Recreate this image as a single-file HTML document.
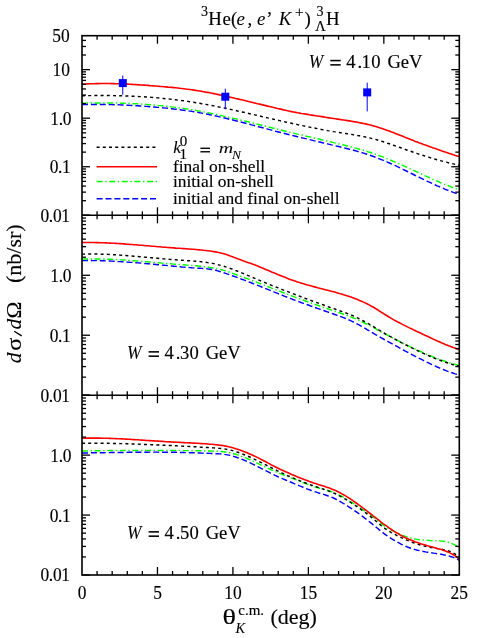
<!DOCTYPE html><html><head><meta charset="utf-8"><title>plot</title>
<style>html,body{margin:0;padding:0;background:#fff}svg{display:block;will-change:transform}text{font-family:"Liberation Serif",serif;fill:#000;stroke:#000;stroke-width:0.15px}.i{font-style:italic;stroke-width:0.06px}</style></head><body>
<svg width="491" height="638" viewBox="0 0 491 638">
<rect width="491" height="638" fill="#fff"/>
<path d="M82.0 103.2 L84.0 103.1 L86.0 103.1 L88.0 103.0 L90.0 103.0 L92.0 103.0 L94.0 102.9 L96.0 102.9 L98.0 102.9 L100.0 102.9 L102.0 102.9 L104.0 102.9 L106.0 102.9 L108.0 102.9 L109.9 102.9 L111.9 103.0 L113.9 103.0 L115.9 103.0 L117.9 103.1 L119.9 103.1 L121.9 103.2 L123.9 103.2 L125.9 103.3 L127.9 103.4 L129.9 103.5 L131.9 103.6 L133.9 103.7 L135.9 103.8 L137.9 103.9 L139.9 104.0 L141.9 104.1 L143.9 104.2 L145.9 104.4 L147.9 104.5 L149.9 104.7 L151.9 104.8 L153.9 105.0 L155.9 105.2 L157.9 105.4 L159.9 105.6 L161.9 105.8 L163.8 106.0 L165.8 106.2 L167.8 106.4 L169.8 106.6 L171.8 106.9 L173.8 107.1 L175.8 107.4 L177.8 107.6 L179.8 107.9 L181.8 108.2 L183.8 108.5 L185.8 108.8 L187.8 109.1 L189.8 109.4 L191.8 109.7 L193.8 110.1 L195.8 110.4 L197.8 110.8 L199.8 111.1 L201.8 111.5 L203.8 111.9 L205.8 112.3 L207.8 112.7 L209.8 113.1 L211.8 113.5 L213.8 113.9 L215.8 114.3 L217.7 114.7 L219.7 115.2 L221.7 115.6 L223.7 116.1 L225.7 116.5 L227.7 117.0 L229.7 117.4 L231.7 117.9 L233.7 118.4 L235.7 118.8 L237.7 119.3 L239.7 119.8 L241.7 120.3 L243.7 120.8 L245.7 121.3 L247.7 121.8 L249.7 122.3 L251.7 122.7 L253.7 123.2 L255.7 123.7 L257.7 124.2 L259.7 124.7 L261.7 125.2 L263.7 125.7 L265.7 126.2 L267.7 126.7 L269.7 127.2 L271.6 127.7 L273.6 128.2 L275.6 128.7 L277.6 129.2 L279.6 129.7 L281.6 130.2 L283.6 130.7 L285.6 131.2 L287.6 131.7 L289.6 132.1 L291.6 132.6 L293.6 133.1 L295.6 133.6 L297.6 134.1 L299.6 134.5 L301.6 135.0 L303.6 135.5 L305.6 136.0 L307.6 136.5 L309.6 136.9 L311.6 137.4 L313.6 137.9 L315.6 138.4 L317.6 138.8 L319.6 139.3 L321.6 139.8 L323.6 140.2 L325.5 140.7 L327.5 141.2 L329.5 141.7 L331.5 142.1 L333.5 142.6 L335.5 143.1 L337.5 143.6 L339.5 144.1 L341.5 144.5 L343.5 145.0 L345.5 145.5 L347.5 146.0 L349.5 146.5 L351.5 147.0 L353.5 147.5 L355.5 148.1 L357.5 148.6 L359.5 149.2 L361.5 149.8 L363.5 150.3 L365.5 150.9 L367.5 151.6 L369.5 152.2 L371.5 152.8 L373.5 153.5 L375.5 154.2 L377.5 154.9 L379.4 155.7 L381.4 156.4 L383.4 157.2 L385.4 158.0 L387.4 158.8 L389.4 159.6 L391.4 160.5 L393.4 161.3 L395.4 162.2 L397.4 163.1 L399.4 163.9 L401.4 164.8 L403.4 165.7 L405.4 166.6 L407.4 167.6 L409.4 168.5 L411.4 169.4 L413.4 170.3 L415.4 171.2 L417.4 172.2 L419.4 173.1 L421.4 174.0 L423.4 174.9 L425.4 175.9 L427.4 176.8 L429.4 177.7 L431.4 178.6 L433.3 179.5 L435.3 180.4 L437.3 181.2 L439.3 182.1 L441.3 183.0 L443.3 183.8 L445.3 184.6 L447.3 185.4 L449.3 186.2 L451.3 187.0 L453.3 187.7 L455.3 188.5 L457.3 189.2 L459.3 189.9" fill="none" stroke="#0f0" stroke-width="1.45" stroke-dasharray="6 2.6 1.4 2.6"/>
<path d="M82.0 104.5 L84.0 104.4 L86.0 104.4 L88.0 104.4 L90.0 104.4 L92.0 104.4 L94.0 104.4 L96.0 104.4 L98.0 104.4 L100.0 104.4 L102.0 104.4 L104.0 104.4 L106.0 104.5 L108.0 104.5 L109.9 104.6 L111.9 104.6 L113.9 104.7 L115.9 104.7 L117.9 104.8 L119.9 104.9 L121.9 105.0 L123.9 105.1 L125.9 105.2 L127.9 105.3 L129.9 105.4 L131.9 105.5 L133.9 105.6 L135.9 105.7 L137.9 105.8 L139.9 106.0 L141.9 106.1 L143.9 106.2 L145.9 106.4 L147.9 106.5 L149.9 106.7 L151.9 106.8 L153.9 107.0 L155.9 107.2 L157.9 107.4 L159.9 107.5 L161.9 107.7 L163.8 107.9 L165.8 108.1 L167.8 108.3 L169.8 108.5 L171.8 108.7 L173.8 109.0 L175.8 109.2 L177.8 109.4 L179.8 109.7 L181.8 110.0 L183.8 110.2 L185.8 110.5 L187.8 110.8 L189.8 111.1 L191.8 111.4 L193.8 111.7 L195.8 112.1 L197.8 112.4 L199.8 112.8 L201.8 113.1 L203.8 113.5 L205.8 113.9 L207.8 114.3 L209.8 114.7 L211.8 115.1 L213.8 115.6 L215.8 116.0 L217.7 116.4 L219.7 116.9 L221.7 117.4 L223.7 117.8 L225.7 118.3 L227.7 118.8 L229.7 119.3 L231.7 119.7 L233.7 120.2 L235.7 120.7 L237.7 121.2 L239.7 121.8 L241.7 122.3 L243.7 122.8 L245.7 123.3 L247.7 123.8 L249.7 124.3 L251.7 124.9 L253.7 125.4 L255.7 125.9 L257.7 126.4 L259.7 127.0 L261.7 127.5 L263.7 128.0 L265.7 128.6 L267.7 129.1 L269.7 129.6 L271.6 130.1 L273.6 130.6 L275.6 131.2 L277.6 131.7 L279.6 132.2 L281.6 132.7 L283.6 133.2 L285.6 133.7 L287.6 134.2 L289.6 134.7 L291.6 135.2 L293.6 135.7 L295.6 136.2 L297.6 136.7 L299.6 137.2 L301.6 137.7 L303.6 138.1 L305.6 138.6 L307.6 139.1 L309.6 139.6 L311.6 140.1 L313.6 140.6 L315.6 141.0 L317.6 141.5 L319.6 142.0 L321.6 142.5 L323.6 143.0 L325.5 143.4 L327.5 143.9 L329.5 144.4 L331.5 144.9 L333.5 145.3 L335.5 145.8 L337.5 146.3 L339.5 146.8 L341.5 147.3 L343.5 147.7 L345.5 148.2 L347.5 148.7 L349.5 149.2 L351.5 149.8 L353.5 150.3 L355.5 150.8 L357.5 151.4 L359.5 152.0 L361.5 152.5 L363.5 153.1 L365.5 153.8 L367.5 154.4 L369.5 155.1 L371.5 155.8 L373.5 156.5 L375.5 157.2 L377.5 158.0 L379.4 158.8 L381.4 159.6 L383.4 160.4 L385.4 161.2 L387.4 162.1 L389.4 163.0 L391.4 163.9 L393.4 164.8 L395.4 165.7 L397.4 166.7 L399.4 167.6 L401.4 168.6 L403.4 169.6 L405.4 170.5 L407.4 171.5 L409.4 172.5 L411.4 173.5 L413.4 174.5 L415.4 175.5 L417.4 176.4 L419.4 177.4 L421.4 178.4 L423.4 179.4 L425.4 180.3 L427.4 181.3 L429.4 182.2 L431.4 183.1 L433.3 184.1 L435.3 185.0 L437.3 185.9 L439.3 186.7 L441.3 187.6 L443.3 188.4 L445.3 189.3 L447.3 190.1 L449.3 190.9 L451.3 191.6 L453.3 192.4 L455.3 193.1 L457.3 193.8 L459.3 194.5" fill="none" stroke="#00f" stroke-width="1.45" stroke-dasharray="6 2.9"/>
<path d="M82.0 95.7 L84.0 95.7 L86.0 95.6 L88.0 95.6 L90.0 95.6 L92.0 95.6 L94.0 95.5 L96.0 95.5 L98.0 95.5 L100.0 95.5 L102.0 95.5 L104.0 95.5 L106.0 95.5 L108.0 95.5 L109.9 95.6 L111.9 95.6 L113.9 95.6 L115.9 95.7 L117.9 95.7 L119.9 95.8 L121.9 95.8 L123.9 95.9 L125.9 96.0 L127.9 96.0 L129.9 96.1 L131.9 96.2 L133.9 96.3 L135.9 96.4 L137.9 96.5 L139.9 96.6 L141.9 96.7 L143.9 96.8 L145.9 97.0 L147.9 97.1 L149.9 97.3 L151.9 97.4 L153.9 97.6 L155.9 97.7 L157.9 97.9 L159.9 98.1 L161.9 98.3 L163.8 98.5 L165.8 98.7 L167.8 98.9 L169.8 99.1 L171.8 99.3 L173.8 99.6 L175.8 99.8 L177.8 100.1 L179.8 100.3 L181.8 100.6 L183.8 100.8 L185.8 101.1 L187.8 101.4 L189.8 101.7 L191.8 102.0 L193.8 102.3 L195.8 102.7 L197.8 103.0 L199.8 103.3 L201.8 103.7 L203.8 104.0 L205.8 104.4 L207.8 104.8 L209.8 105.1 L211.8 105.5 L213.8 105.9 L215.8 106.3 L217.7 106.7 L219.7 107.1 L221.7 107.5 L223.7 107.9 L225.7 108.3 L227.7 108.8 L229.7 109.2 L231.7 109.6 L233.7 110.1 L235.7 110.5 L237.7 111.0 L239.7 111.4 L241.7 111.9 L243.7 112.3 L245.7 112.8 L247.7 113.2 L249.7 113.7 L251.7 114.2 L253.7 114.6 L255.7 115.1 L257.7 115.5 L259.7 116.0 L261.7 116.5 L263.7 116.9 L265.7 117.4 L267.7 117.9 L269.7 118.3 L271.6 118.8 L273.6 119.3 L275.6 119.7 L277.6 120.2 L279.6 120.6 L281.6 121.1 L283.6 121.5 L285.6 122.0 L287.6 122.4 L289.6 122.9 L291.6 123.3 L293.6 123.8 L295.6 124.2 L297.6 124.6 L299.6 125.1 L301.6 125.5 L303.6 125.9 L305.6 126.3 L307.6 126.7 L309.6 127.1 L311.6 127.5 L313.6 127.9 L315.6 128.3 L317.6 128.7 L319.6 129.1 L321.6 129.5 L323.6 129.8 L325.5 130.2 L327.5 130.6 L329.5 130.9 L331.5 131.2 L333.5 131.6 L335.5 131.9 L337.5 132.2 L339.5 132.5 L341.5 132.9 L343.5 133.2 L345.5 133.5 L347.5 133.8 L349.5 134.1 L351.5 134.4 L353.5 134.8 L355.5 135.1 L357.5 135.5 L359.5 135.8 L361.5 136.2 L363.5 136.6 L365.5 137.0 L367.5 137.5 L369.5 137.9 L371.5 138.4 L373.5 138.9 L375.5 139.4 L377.5 140.0 L379.4 140.6 L381.4 141.2 L383.4 141.8 L385.4 142.5 L387.4 143.2 L389.4 143.8 L391.4 144.5 L393.4 145.2 L395.4 145.9 L397.4 146.6 L399.4 147.3 L401.4 148.0 L403.4 148.7 L405.4 149.5 L407.4 150.2 L409.4 150.8 L411.4 151.5 L413.4 152.2 L415.4 152.9 L417.4 153.6 L419.4 154.2 L421.4 154.9 L423.4 155.5 L425.4 156.2 L427.4 156.8 L429.4 157.4 L431.4 158.0 L433.3 158.6 L435.3 159.2 L437.3 159.8 L439.3 160.3 L441.3 160.9 L443.3 161.4 L445.3 161.9 L447.3 162.4 L449.3 163.0 L451.3 163.4 L453.3 163.9 L455.3 164.4 L457.3 164.9 L459.3 165.3" fill="none" stroke="#000" stroke-width="1.45" stroke-dasharray="3 3.2"/>
<path d="M82.0 84.3 L84.0 84.2 L86.0 84.0 L88.0 83.9 L90.0 83.8 L92.0 83.7 L94.0 83.7 L96.0 83.6 L98.0 83.6 L100.0 83.5 L102.0 83.5 L104.0 83.5 L106.0 83.5 L108.0 83.5 L109.9 83.5 L111.9 83.6 L113.9 83.6 L115.9 83.7 L117.9 83.7 L119.9 83.8 L121.9 83.9 L123.9 84.0 L125.9 84.0 L127.9 84.1 L129.9 84.3 L131.9 84.4 L133.9 84.5 L135.9 84.6 L137.9 84.7 L139.9 84.9 L141.9 85.0 L143.9 85.1 L145.9 85.3 L147.9 85.4 L149.9 85.6 L151.9 85.7 L153.9 85.9 L155.9 86.0 L157.9 86.2 L159.9 86.4 L161.9 86.5 L163.8 86.7 L165.8 86.9 L167.8 87.1 L169.8 87.2 L171.8 87.4 L173.8 87.6 L175.8 87.8 L177.8 88.0 L179.8 88.3 L181.8 88.5 L183.8 88.7 L185.8 89.0 L187.8 89.2 L189.8 89.5 L191.8 89.8 L193.8 90.1 L195.8 90.4 L197.8 90.7 L199.8 91.0 L201.8 91.4 L203.8 91.7 L205.8 92.1 L207.8 92.4 L209.8 92.8 L211.8 93.2 L213.8 93.6 L215.8 94.0 L217.7 94.4 L219.7 94.9 L221.7 95.3 L223.7 95.7 L225.7 96.2 L227.7 96.6 L229.7 97.1 L231.7 97.5 L233.7 98.0 L235.7 98.5 L237.7 98.9 L239.7 99.4 L241.7 99.8 L243.7 100.3 L245.7 100.8 L247.7 101.3 L249.7 101.7 L251.7 102.2 L253.7 102.7 L255.7 103.2 L257.7 103.7 L259.7 104.1 L261.7 104.6 L263.7 105.1 L265.7 105.6 L267.7 106.1 L269.7 106.5 L271.6 107.0 L273.6 107.5 L275.6 108.0 L277.6 108.5 L279.6 108.9 L281.6 109.4 L283.6 109.9 L285.6 110.3 L287.6 110.8 L289.6 111.2 L291.6 111.6 L293.6 112.0 L295.6 112.4 L297.6 112.8 L299.6 113.1 L301.6 113.5 L303.6 113.8 L305.6 114.1 L307.6 114.4 L309.6 114.8 L311.6 115.1 L313.6 115.4 L315.6 115.7 L317.6 116.0 L319.6 116.3 L321.6 116.6 L323.6 116.9 L325.5 117.3 L327.5 117.6 L329.5 117.9 L331.5 118.2 L333.5 118.5 L335.5 118.8 L337.5 119.1 L339.5 119.4 L341.5 119.7 L343.5 120.0 L345.5 120.3 L347.5 120.6 L349.5 120.9 L351.5 121.2 L353.5 121.6 L355.5 121.9 L357.5 122.3 L359.5 122.7 L361.5 123.1 L363.5 123.5 L365.5 123.9 L367.5 124.4 L369.5 124.8 L371.5 125.3 L373.5 125.9 L375.5 126.4 L377.5 127.0 L379.4 127.7 L381.4 128.3 L383.4 129.0 L385.4 129.7 L387.4 130.4 L389.4 131.1 L391.4 131.9 L393.4 132.6 L395.4 133.4 L397.4 134.2 L399.4 135.0 L401.4 135.8 L403.4 136.6 L405.4 137.4 L407.4 138.2 L409.4 139.0 L411.4 139.8 L413.4 140.6 L415.4 141.4 L417.4 142.1 L419.4 142.9 L421.4 143.6 L423.4 144.4 L425.4 145.1 L427.4 145.8 L429.4 146.5 L431.4 147.3 L433.3 148.0 L435.3 148.6 L437.3 149.3 L439.3 150.0 L441.3 150.7 L443.3 151.4 L445.3 152.1 L447.3 152.7 L449.3 153.4 L451.3 154.1 L453.3 154.8 L455.3 155.4 L457.3 156.1 L459.3 156.8" fill="none" stroke="#f00" stroke-width="1.6"/>
<path d="M82.0 259.0 L84.0 259.0 L86.0 258.9 L88.0 258.9 L90.0 258.9 L92.0 258.9 L94.0 258.9 L96.0 258.9 L98.0 258.9 L100.0 258.9 L102.0 259.0 L104.0 259.0 L106.0 259.1 L108.0 259.2 L109.9 259.2 L111.9 259.3 L113.9 259.4 L115.9 259.5 L117.9 259.6 L119.9 259.8 L121.9 259.9 L123.9 260.0 L125.9 260.1 L127.9 260.3 L129.9 260.4 L131.9 260.6 L133.9 260.7 L135.9 260.9 L137.9 261.0 L139.9 261.2 L141.9 261.4 L143.9 261.5 L145.9 261.7 L147.9 261.9 L149.9 262.0 L151.9 262.2 L153.9 262.4 L155.9 262.6 L157.9 262.7 L159.9 262.9 L161.9 263.1 L163.8 263.3 L165.8 263.4 L167.8 263.6 L169.8 263.7 L171.8 263.9 L173.8 264.1 L175.8 264.2 L177.8 264.4 L179.8 264.5 L181.8 264.7 L183.8 264.8 L185.8 265.0 L187.8 265.1 L189.8 265.3 L191.8 265.4 L193.8 265.6 L195.8 265.8 L197.8 266.0 L199.8 266.2 L201.8 266.4 L203.8 266.7 L205.8 266.9 L207.8 267.2 L209.8 267.5 L211.8 267.8 L213.8 268.1 L215.8 268.5 L217.7 268.9 L219.7 269.3 L221.7 269.8 L223.7 270.4 L225.7 271.0 L227.7 271.6 L229.7 272.3 L231.7 273.0 L233.7 273.7 L235.7 274.5 L237.7 275.2 L239.7 275.9 L241.7 276.7 L243.7 277.4 L245.7 278.1 L247.7 278.9 L249.7 279.6 L251.7 280.4 L253.7 281.1 L255.7 281.9 L257.7 282.6 L259.7 283.4 L261.7 284.2 L263.7 284.9 L265.7 285.7 L267.7 286.5 L269.7 287.3 L271.6 288.1 L273.6 288.8 L275.6 289.6 L277.6 290.4 L279.6 291.2 L281.6 292.0 L283.6 292.8 L285.6 293.5 L287.6 294.3 L289.6 295.1 L291.6 295.8 L293.6 296.6 L295.6 297.4 L297.6 298.1 L299.6 298.8 L301.6 299.6 L303.6 300.3 L305.6 301.0 L307.6 301.8 L309.6 302.5 L311.6 303.2 L313.6 303.9 L315.6 304.6 L317.6 305.3 L319.6 306.0 L321.6 306.7 L323.6 307.4 L325.5 308.1 L327.5 308.7 L329.5 309.4 L331.5 310.1 L333.5 310.8 L335.5 311.5 L337.5 312.1 L339.5 312.8 L341.5 313.5 L343.5 314.2 L345.5 314.9 L347.5 315.6 L349.5 316.4 L351.5 317.2 L353.5 318.0 L355.5 318.8 L357.5 319.7 L359.5 320.6 L361.5 321.6 L363.5 322.5 L365.5 323.5 L367.5 324.5 L369.5 325.6 L371.5 326.6 L373.5 327.7 L375.5 328.7 L377.5 329.8 L379.4 330.9 L381.4 332.0 L383.4 333.1 L385.4 334.1 L387.4 335.2 L389.4 336.3 L391.4 337.3 L393.4 338.4 L395.4 339.4 L397.4 340.4 L399.4 341.4 L401.4 342.5 L403.4 343.5 L405.4 344.4 L407.4 345.4 L409.4 346.4 L411.4 347.3 L413.4 348.3 L415.4 349.2 L417.4 350.1 L419.4 351.0 L421.4 351.9 L423.4 352.8 L425.4 353.7 L427.4 354.5 L429.4 355.4 L431.4 356.2 L433.3 357.0 L435.3 357.8 L437.3 358.5 L439.3 359.3 L441.3 360.0 L443.3 360.7 L445.3 361.4 L447.3 362.1 L449.3 362.7 L451.3 363.3 L453.3 363.9 L455.3 364.5 L457.3 365.0 L459.3 365.5" fill="none" stroke="#0f0" stroke-width="1.45" stroke-dasharray="6 2.6 1.4 2.6"/>
<path d="M82.0 260.6 L84.0 260.6 L86.0 260.6 L88.0 260.5 L90.0 260.5 L92.0 260.6 L94.0 260.6 L96.0 260.6 L98.0 260.6 L100.0 260.7 L102.0 260.8 L104.0 260.8 L106.0 260.9 L108.0 261.0 L109.9 261.0 L111.9 261.1 L113.9 261.2 L115.9 261.3 L117.9 261.5 L119.9 261.6 L121.9 261.7 L123.9 261.8 L125.9 262.0 L127.9 262.1 L129.9 262.3 L131.9 262.4 L133.9 262.6 L135.9 262.7 L137.9 262.9 L139.9 263.0 L141.9 263.2 L143.9 263.4 L145.9 263.6 L147.9 263.7 L149.9 263.9 L151.9 264.1 L153.9 264.3 L155.9 264.5 L157.9 264.7 L159.9 264.9 L161.9 265.1 L163.8 265.2 L165.8 265.4 L167.8 265.6 L169.8 265.8 L171.8 266.0 L173.8 266.2 L175.8 266.4 L177.8 266.6 L179.8 266.8 L181.8 267.0 L183.8 267.1 L185.8 267.3 L187.8 267.5 L189.8 267.6 L191.8 267.8 L193.8 267.9 L195.8 268.0 L197.8 268.2 L199.8 268.3 L201.8 268.4 L203.8 268.5 L205.8 268.7 L207.8 268.9 L209.8 269.2 L211.8 269.5 L213.8 269.9 L215.8 270.3 L217.7 270.9 L219.7 271.5 L221.7 272.1 L223.7 272.8 L225.7 273.4 L227.7 274.1 L229.7 274.8 L231.7 275.5 L233.7 276.2 L235.7 276.9 L237.7 277.7 L239.7 278.4 L241.7 279.2 L243.7 279.9 L245.7 280.7 L247.7 281.5 L249.7 282.2 L251.7 283.0 L253.7 283.8 L255.7 284.6 L257.7 285.4 L259.7 286.2 L261.7 287.0 L263.7 287.8 L265.7 288.6 L267.7 289.4 L269.7 290.2 L271.6 291.0 L273.6 291.8 L275.6 292.6 L277.6 293.4 L279.6 294.2 L281.6 295.0 L283.6 295.8 L285.6 296.6 L287.6 297.4 L289.6 298.2 L291.6 298.9 L293.6 299.7 L295.6 300.4 L297.6 301.2 L299.6 301.9 L301.6 302.7 L303.6 303.4 L305.6 304.1 L307.6 304.8 L309.6 305.5 L311.6 306.3 L313.6 307.0 L315.6 307.7 L317.6 308.4 L319.6 309.1 L321.6 309.8 L323.6 310.5 L325.5 311.2 L327.5 311.9 L329.5 312.6 L331.5 313.3 L333.5 314.0 L335.5 314.7 L337.5 315.5 L339.5 316.2 L341.5 316.9 L343.5 317.7 L345.5 318.5 L347.5 319.3 L349.5 320.2 L351.5 321.1 L353.5 322.0 L355.5 323.0 L357.5 324.1 L359.5 325.2 L361.5 326.3 L363.5 327.5 L365.5 328.6 L367.5 329.8 L369.5 331.0 L371.5 332.2 L373.5 333.4 L375.5 334.6 L377.5 335.7 L379.4 336.8 L381.4 337.9 L383.4 339.0 L385.4 340.1 L387.4 341.2 L389.4 342.3 L391.4 343.4 L393.4 344.5 L395.4 345.6 L397.4 346.7 L399.4 347.8 L401.4 348.9 L403.4 350.0 L405.4 351.1 L407.4 352.1 L409.4 353.2 L411.4 354.3 L413.4 355.3 L415.4 356.4 L417.4 357.4 L419.4 358.4 L421.4 359.4 L423.4 360.4 L425.4 361.4 L427.4 362.4 L429.4 363.3 L431.4 364.3 L433.3 365.2 L435.3 366.1 L437.3 367.0 L439.3 367.8 L441.3 368.7 L443.3 369.5 L445.3 370.3 L447.3 371.1 L449.3 371.8 L451.3 372.5 L453.3 373.2 L455.3 373.9 L457.3 374.5 L459.3 375.1" fill="none" stroke="#00f" stroke-width="1.45" stroke-dasharray="6 2.9"/>
<path d="M82.0 254.1 L84.0 254.1 L86.0 254.0 L88.0 254.0 L90.0 254.0 L92.0 254.0 L94.0 254.0 L96.0 254.0 L98.0 254.1 L100.0 254.1 L102.0 254.2 L104.0 254.2 L106.0 254.3 L108.0 254.4 L109.9 254.5 L111.9 254.6 L113.9 254.7 L115.9 254.8 L117.9 255.0 L119.9 255.1 L121.9 255.2 L123.9 255.4 L125.9 255.5 L127.9 255.7 L129.9 255.8 L131.9 256.0 L133.9 256.2 L135.9 256.4 L137.9 256.5 L139.9 256.7 L141.9 256.9 L143.9 257.1 L145.9 257.3 L147.9 257.4 L149.9 257.6 L151.9 257.8 L153.9 258.0 L155.9 258.2 L157.9 258.3 L159.9 258.5 L161.9 258.7 L163.8 258.9 L165.8 259.0 L167.8 259.2 L169.8 259.4 L171.8 259.5 L173.8 259.7 L175.8 259.8 L177.8 260.0 L179.8 260.1 L181.8 260.2 L183.8 260.4 L185.8 260.5 L187.8 260.7 L189.8 260.8 L191.8 260.9 L193.8 261.1 L195.8 261.3 L197.8 261.4 L199.8 261.6 L201.8 261.8 L203.8 262.1 L205.8 262.3 L207.8 262.6 L209.8 262.9 L211.8 263.3 L213.8 263.6 L215.8 264.1 L217.7 264.6 L219.7 265.1 L221.7 265.6 L223.7 266.2 L225.7 266.9 L227.7 267.5 L229.7 268.2 L231.7 268.9 L233.7 269.7 L235.7 270.5 L237.7 271.2 L239.7 272.0 L241.7 272.9 L243.7 273.7 L245.7 274.5 L247.7 275.4 L249.7 276.2 L251.7 277.1 L253.7 277.9 L255.7 278.8 L257.7 279.6 L259.7 280.4 L261.7 281.3 L263.7 282.1 L265.7 282.9 L267.7 283.7 L269.7 284.5 L271.6 285.3 L273.6 286.1 L275.6 286.9 L277.6 287.7 L279.6 288.5 L281.6 289.3 L283.6 290.1 L285.6 290.9 L287.6 291.6 L289.6 292.4 L291.6 293.2 L293.6 293.9 L295.6 294.7 L297.6 295.4 L299.6 296.2 L301.6 297.0 L303.6 297.7 L305.6 298.5 L307.6 299.2 L309.6 299.9 L311.6 300.7 L313.6 301.4 L315.6 302.2 L317.6 302.9 L319.6 303.6 L321.6 304.3 L323.6 305.0 L325.5 305.8 L327.5 306.5 L329.5 307.2 L331.5 307.9 L333.5 308.6 L335.5 309.3 L337.5 310.0 L339.5 310.7 L341.5 311.4 L343.5 312.1 L345.5 312.8 L347.5 313.6 L349.5 314.4 L351.5 315.2 L353.5 316.0 L355.5 316.9 L357.5 317.9 L359.5 318.9 L361.5 319.9 L363.5 321.0 L365.5 322.1 L367.5 323.2 L369.5 324.3 L371.5 325.5 L373.5 326.7 L375.5 327.9 L377.5 329.1 L379.4 330.3 L381.4 331.4 L383.4 332.6 L385.4 333.8 L387.4 335.0 L389.4 336.1 L391.4 337.2 L393.4 338.3 L395.4 339.4 L397.4 340.5 L399.4 341.6 L401.4 342.7 L403.4 343.7 L405.4 344.7 L407.4 345.7 L409.4 346.7 L411.4 347.7 L413.4 348.7 L415.4 349.7 L417.4 350.6 L419.4 351.5 L421.4 352.5 L423.4 353.4 L425.4 354.2 L427.4 355.1 L429.4 356.0 L431.4 356.8 L433.3 357.6 L435.3 358.5 L437.3 359.2 L439.3 360.0 L441.3 360.7 L443.3 361.5 L445.3 362.2 L447.3 362.8 L449.3 363.5 L451.3 364.1 L453.3 364.7 L455.3 365.2 L457.3 365.7 L459.3 366.2" fill="none" stroke="#000" stroke-width="1.45" stroke-dasharray="3 3.2"/>
<path d="M82.0 242.5 L84.0 242.5 L86.0 242.5 L88.0 242.5 L90.0 242.5 L92.0 242.5 L94.0 242.5 L96.0 242.6 L98.0 242.6 L100.0 242.7 L102.0 242.7 L104.0 242.8 L106.0 242.9 L108.0 243.0 L109.9 243.1 L111.9 243.2 L113.9 243.3 L115.9 243.4 L117.9 243.5 L119.9 243.6 L121.9 243.8 L123.9 243.9 L125.9 244.1 L127.9 244.2 L129.9 244.4 L131.9 244.5 L133.9 244.7 L135.9 244.8 L137.9 245.0 L139.9 245.2 L141.9 245.3 L143.9 245.5 L145.9 245.7 L147.9 245.8 L149.9 246.0 L151.9 246.2 L153.9 246.3 L155.9 246.5 L157.9 246.7 L159.9 246.8 L161.9 247.0 L163.8 247.2 L165.8 247.3 L167.8 247.5 L169.8 247.6 L171.8 247.8 L173.8 247.9 L175.8 248.1 L177.8 248.2 L179.8 248.3 L181.8 248.5 L183.8 248.6 L185.8 248.7 L187.8 248.9 L189.8 249.0 L191.8 249.2 L193.8 249.3 L195.8 249.5 L197.8 249.7 L199.8 249.9 L201.8 250.0 L203.8 250.3 L205.8 250.5 L207.8 250.7 L209.8 251.0 L211.8 251.3 L213.8 251.6 L215.8 251.9 L217.7 252.3 L219.7 252.7 L221.7 253.2 L223.7 253.7 L225.7 254.3 L227.7 255.0 L229.7 255.8 L231.7 256.5 L233.7 257.3 L235.7 258.0 L237.7 258.8 L239.7 259.5 L241.7 260.2 L243.7 260.9 L245.7 261.7 L247.7 262.4 L249.7 263.1 L251.7 263.8 L253.7 264.6 L255.7 265.3 L257.7 266.1 L259.7 266.9 L261.7 267.7 L263.7 268.5 L265.7 269.4 L267.7 270.2 L269.7 271.0 L271.6 271.9 L273.6 272.7 L275.6 273.5 L277.6 274.4 L279.6 275.2 L281.6 276.0 L283.6 276.8 L285.6 277.6 L287.6 278.4 L289.6 279.2 L291.6 279.9 L293.6 280.6 L295.6 281.3 L297.6 282.0 L299.6 282.6 L301.6 283.2 L303.6 283.8 L305.6 284.4 L307.6 285.0 L309.6 285.5 L311.6 286.1 L313.6 286.6 L315.6 287.1 L317.6 287.7 L319.6 288.2 L321.6 288.7 L323.6 289.2 L325.5 289.7 L327.5 290.2 L329.5 290.7 L331.5 291.3 L333.5 291.8 L335.5 292.3 L337.5 292.9 L339.5 293.5 L341.5 294.0 L343.5 294.7 L345.5 295.3 L347.5 295.9 L349.5 296.6 L351.5 297.3 L353.5 298.0 L355.5 298.8 L357.5 299.6 L359.5 300.4 L361.5 301.2 L363.5 302.1 L365.5 303.1 L367.5 304.0 L369.5 305.1 L371.5 306.2 L373.5 307.3 L375.5 308.5 L377.5 309.7 L379.4 311.0 L381.4 312.3 L383.4 313.5 L385.4 314.8 L387.4 316.0 L389.4 317.2 L391.4 318.4 L393.4 319.6 L395.4 320.7 L397.4 321.8 L399.4 322.8 L401.4 323.9 L403.4 324.9 L405.4 325.9 L407.4 326.9 L409.4 327.9 L411.4 328.8 L413.4 329.8 L415.4 330.7 L417.4 331.7 L419.4 332.6 L421.4 333.5 L423.4 334.5 L425.4 335.4 L427.4 336.3 L429.4 337.2 L431.4 338.2 L433.3 339.1 L435.3 340.0 L437.3 340.9 L439.3 341.8 L441.3 342.7 L443.3 343.5 L445.3 344.4 L447.3 345.2 L449.3 346.0 L451.3 346.8 L453.3 347.6 L455.3 348.3 L457.3 349.0 L459.3 349.7" fill="none" stroke="#f00" stroke-width="1.6"/>
<path d="M82.0 450.9 L84.0 450.9 L86.0 450.9 L88.0 450.8 L90.0 450.8 L92.0 450.8 L94.0 450.7 L96.0 450.7 L98.0 450.7 L100.0 450.7 L102.0 450.6 L104.0 450.6 L106.0 450.6 L108.0 450.6 L109.9 450.5 L111.9 450.5 L113.9 450.5 L115.9 450.5 L117.9 450.5 L119.9 450.5 L121.9 450.5 L123.9 450.4 L125.9 450.4 L127.9 450.4 L129.9 450.4 L131.9 450.4 L133.9 450.4 L135.9 450.4 L137.9 450.4 L139.9 450.4 L141.9 450.4 L143.9 450.4 L145.9 450.4 L147.9 450.4 L149.9 450.4 L151.9 450.4 L153.9 450.4 L155.9 450.4 L157.9 450.4 L159.9 450.4 L161.9 450.4 L163.8 450.4 L165.8 450.4 L167.8 450.4 L169.8 450.4 L171.8 450.5 L173.8 450.5 L175.8 450.5 L177.8 450.5 L179.8 450.5 L181.8 450.5 L183.8 450.6 L185.8 450.6 L187.8 450.6 L189.8 450.6 L191.8 450.7 L193.8 450.7 L195.8 450.7 L197.8 450.8 L199.8 450.8 L201.8 450.8 L203.8 450.9 L205.8 450.9 L207.8 451.0 L209.8 451.0 L211.8 451.1 L213.8 451.2 L215.8 451.2 L217.7 451.3 L219.7 451.4 L221.7 451.5 L223.7 451.7 L225.7 452.0 L227.7 452.3 L229.7 452.7 L231.7 453.2 L233.7 453.7 L235.7 454.3 L237.7 454.9 L239.7 455.6 L241.7 456.4 L243.7 457.1 L245.7 457.9 L247.7 458.8 L249.7 459.7 L251.7 460.6 L253.7 461.5 L255.7 462.4 L257.7 463.3 L259.7 464.3 L261.7 465.3 L263.7 466.2 L265.7 467.2 L267.7 468.1 L269.7 469.0 L271.6 470.0 L273.6 470.9 L275.6 471.7 L277.6 472.6 L279.6 473.4 L281.6 474.2 L283.6 475.0 L285.6 475.8 L287.6 476.5 L289.6 477.3 L291.6 478.1 L293.6 478.8 L295.6 479.6 L297.6 480.4 L299.6 481.2 L301.6 482.0 L303.6 482.8 L305.6 483.5 L307.6 484.3 L309.6 485.0 L311.6 485.7 L313.6 486.4 L315.6 487.0 L317.6 487.6 L319.6 488.2 L321.6 488.7 L323.6 489.3 L325.5 489.8 L327.5 490.4 L329.5 491.0 L331.5 491.7 L333.5 492.4 L335.5 493.3 L337.5 494.2 L339.5 495.2 L341.5 496.2 L343.5 497.3 L345.5 498.5 L347.5 499.7 L349.5 501.0 L351.5 502.2 L353.5 503.5 L355.5 504.8 L357.5 506.1 L359.5 507.4 L361.5 508.8 L363.5 510.1 L365.5 511.5 L367.5 512.9 L369.5 514.3 L371.5 515.8 L373.5 517.3 L375.5 518.9 L377.5 520.5 L379.4 522.1 L381.4 523.7 L383.4 525.2 L385.4 526.6 L387.4 527.8 L389.4 528.9 L391.4 530.0 L393.4 531.0 L395.4 532.0 L397.4 532.9 L399.4 533.9 L401.4 534.8 L403.4 535.6 L405.4 536.4 L407.4 537.1 L409.4 537.7 L411.4 538.2 L413.4 538.7 L415.4 539.1 L417.4 539.4 L419.4 539.7 L421.4 539.9 L423.4 540.1 L425.4 540.3 L427.4 540.4 L429.4 540.5 L431.4 540.6 L433.3 540.7 L435.3 540.7 L437.3 540.8 L439.3 540.9 L441.3 541.1 L443.3 541.3 L445.3 541.6 L447.3 542.1 L449.3 542.6 L451.3 543.3 L453.3 544.1 L455.3 545.1 L457.3 546.0 L459.3 546.8" fill="none" stroke="#0f0" stroke-width="1.45" stroke-dasharray="6 2.6 1.4 2.6"/>
<path d="M82.0 452.9 L84.0 452.9 L86.0 452.9 L88.0 452.9 L90.0 452.8 L92.0 452.8 L94.0 452.8 L96.0 452.8 L98.0 452.7 L100.0 452.7 L102.0 452.7 L104.0 452.7 L106.0 452.6 L108.0 452.6 L109.9 452.6 L111.9 452.5 L113.9 452.5 L115.9 452.5 L117.9 452.5 L119.9 452.4 L121.9 452.4 L123.9 452.4 L125.9 452.4 L127.9 452.3 L129.9 452.3 L131.9 452.3 L133.9 452.3 L135.9 452.2 L137.9 452.2 L139.9 452.2 L141.9 452.2 L143.9 452.2 L145.9 452.2 L147.9 452.2 L149.9 452.1 L151.9 452.1 L153.9 452.1 L155.9 452.1 L157.9 452.1 L159.9 452.2 L161.9 452.2 L163.8 452.2 L165.8 452.2 L167.8 452.2 L169.8 452.2 L171.8 452.3 L173.8 452.3 L175.8 452.3 L177.8 452.4 L179.8 452.4 L181.8 452.5 L183.8 452.5 L185.8 452.6 L187.8 452.6 L189.8 452.7 L191.8 452.7 L193.8 452.8 L195.8 452.9 L197.8 452.9 L199.8 453.0 L201.8 453.1 L203.8 453.2 L205.8 453.3 L207.8 453.3 L209.8 453.4 L211.8 453.5 L213.8 453.6 L215.8 453.7 L217.7 453.8 L219.7 453.9 L221.7 454.1 L223.7 454.3 L225.7 454.6 L227.7 454.9 L229.7 455.4 L231.7 455.9 L233.7 456.4 L235.7 457.0 L237.7 457.7 L239.7 458.4 L241.7 459.2 L243.7 460.0 L245.7 460.9 L247.7 461.8 L249.7 462.7 L251.7 463.6 L253.7 464.6 L255.7 465.6 L257.7 466.6 L259.7 467.6 L261.7 468.6 L263.7 469.7 L265.7 470.7 L267.7 471.7 L269.7 472.7 L271.6 473.7 L273.6 474.7 L275.6 475.6 L277.6 476.5 L279.6 477.4 L281.6 478.3 L283.6 479.2 L285.6 480.0 L287.6 480.9 L289.6 481.7 L291.6 482.5 L293.6 483.4 L295.6 484.2 L297.6 485.0 L299.6 485.9 L301.6 486.7 L303.6 487.5 L305.6 488.3 L307.6 489.1 L309.6 489.8 L311.6 490.6 L313.6 491.3 L315.6 491.9 L317.6 492.6 L319.6 493.2 L321.6 493.8 L323.6 494.4 L325.5 495.0 L327.5 495.7 L329.5 496.4 L331.5 497.2 L333.5 498.0 L335.5 499.0 L337.5 500.0 L339.5 501.1 L341.5 502.3 L343.5 503.5 L345.5 504.8 L347.5 506.0 L349.5 507.3 L351.5 508.6 L353.5 509.9 L355.5 511.3 L357.5 512.7 L359.5 514.1 L361.5 515.6 L363.5 517.1 L365.5 518.7 L367.5 520.2 L369.5 521.8 L371.5 523.4 L373.5 525.0 L375.5 526.7 L377.5 528.3 L379.4 529.9 L381.4 531.5 L383.4 533.1 L385.4 534.6 L387.4 536.0 L389.4 537.3 L391.4 538.6 L393.4 539.8 L395.4 541.0 L397.4 542.1 L399.4 543.2 L401.4 544.3 L403.4 545.2 L405.4 546.1 L407.4 547.0 L409.4 547.7 L411.4 548.4 L413.4 549.1 L415.4 549.6 L417.4 550.2 L419.4 550.6 L421.4 551.1 L423.4 551.5 L425.4 551.9 L427.4 552.2 L429.4 552.5 L431.4 552.8 L433.3 553.1 L435.3 553.4 L437.3 553.7 L439.3 554.0 L441.3 554.3 L443.3 554.7 L445.3 555.1 L447.3 555.5 L449.3 556.1 L451.3 556.7 L453.3 557.4 L455.3 558.3 L457.3 559.2 L459.3 560.3" fill="none" stroke="#00f" stroke-width="1.45" stroke-dasharray="6 2.9"/>
<path d="M82.0 443.3 L84.0 443.3 L86.0 443.3 L88.0 443.3 L90.0 443.2 L92.0 443.2 L94.0 443.2 L96.0 443.2 L98.0 443.2 L100.0 443.3 L102.0 443.3 L104.0 443.3 L106.0 443.3 L108.0 443.3 L109.9 443.4 L111.9 443.4 L113.9 443.4 L115.9 443.5 L117.9 443.5 L119.9 443.6 L121.9 443.6 L123.9 443.7 L125.9 443.7 L127.9 443.8 L129.9 443.9 L131.9 443.9 L133.9 444.0 L135.9 444.1 L137.9 444.1 L139.9 444.2 L141.9 444.3 L143.9 444.4 L145.9 444.5 L147.9 444.5 L149.9 444.6 L151.9 444.7 L153.9 444.8 L155.9 444.9 L157.9 445.0 L159.9 445.1 L161.9 445.2 L163.8 445.3 L165.8 445.3 L167.8 445.4 L169.8 445.5 L171.8 445.6 L173.8 445.7 L175.8 445.8 L177.8 445.9 L179.8 446.0 L181.8 446.1 L183.8 446.2 L185.8 446.3 L187.8 446.4 L189.8 446.5 L191.8 446.6 L193.8 446.7 L195.8 446.8 L197.8 446.9 L199.8 447.1 L201.8 447.2 L203.8 447.3 L205.8 447.4 L207.8 447.5 L209.8 447.7 L211.8 447.8 L213.8 447.9 L215.8 448.1 L217.7 448.2 L219.7 448.4 L221.7 448.6 L223.7 448.8 L225.7 449.1 L227.7 449.5 L229.7 449.9 L231.7 450.4 L233.7 451.0 L235.7 451.6 L237.7 452.2 L239.7 452.9 L241.7 453.7 L243.7 454.5 L245.7 455.3 L247.7 456.1 L249.7 457.0 L251.7 457.9 L253.7 458.9 L255.7 459.8 L257.7 460.8 L259.7 461.8 L261.7 462.8 L263.7 463.8 L265.7 464.8 L267.7 465.9 L269.7 466.9 L271.6 467.9 L273.6 468.9 L275.6 469.9 L277.6 470.9 L279.6 471.8 L281.6 472.8 L283.6 473.7 L285.6 474.6 L287.6 475.6 L289.6 476.4 L291.6 477.3 L293.6 478.2 L295.6 479.0 L297.6 479.9 L299.6 480.7 L301.6 481.5 L303.6 482.3 L305.6 483.0 L307.6 483.8 L309.6 484.5 L311.6 485.2 L313.6 485.9 L315.6 486.6 L317.6 487.3 L319.6 487.9 L321.6 488.6 L323.6 489.2 L325.5 489.9 L327.5 490.6 L329.5 491.4 L331.5 492.2 L333.5 493.0 L335.5 493.9 L337.5 494.8 L339.5 495.9 L341.5 496.9 L343.5 498.1 L345.5 499.2 L347.5 500.4 L349.5 501.7 L351.5 503.0 L353.5 504.3 L355.5 505.6 L357.5 507.0 L359.5 508.4 L361.5 509.8 L363.5 511.3 L365.5 512.7 L367.5 514.2 L369.5 515.8 L371.5 517.4 L373.5 519.0 L375.5 520.7 L377.5 522.4 L379.4 524.1 L381.4 525.7 L383.4 527.3 L385.4 528.8 L387.4 530.2 L389.4 531.4 L391.4 532.6 L393.4 533.7 L395.4 534.7 L397.4 535.8 L399.4 536.7 L401.4 537.7 L403.4 538.6 L405.4 539.5 L407.4 540.4 L409.4 541.2 L411.4 542.0 L413.4 542.7 L415.4 543.4 L417.4 544.1 L419.4 544.7 L421.4 545.3 L423.4 545.8 L425.4 546.3 L427.4 546.8 L429.4 547.2 L431.4 547.6 L433.3 548.0 L435.3 548.3 L437.3 548.6 L439.3 548.9 L441.3 549.2 L443.3 549.6 L445.3 550.0 L447.3 550.6 L449.3 551.2 L451.3 552.0 L453.3 553.0 L455.3 554.2 L457.3 555.6 L459.3 557.2" fill="none" stroke="#000" stroke-width="1.45" stroke-dasharray="3 3.2"/>
<path d="M82.0 438.2 L84.0 438.2 L86.0 438.1 L88.0 438.1 L90.0 438.1 L92.0 438.1 L94.0 438.1 L96.0 438.1 L98.0 438.1 L100.0 438.1 L102.0 438.2 L104.0 438.2 L106.0 438.3 L108.0 438.3 L109.9 438.4 L111.9 438.5 L113.9 438.5 L115.9 438.6 L117.9 438.7 L119.9 438.8 L121.9 438.9 L123.9 439.0 L125.9 439.1 L127.9 439.2 L129.9 439.3 L131.9 439.5 L133.9 439.6 L135.9 439.7 L137.9 439.8 L139.9 440.0 L141.9 440.1 L143.9 440.2 L145.9 440.4 L147.9 440.5 L149.9 440.6 L151.9 440.8 L153.9 440.9 L155.9 441.0 L157.9 441.1 L159.9 441.3 L161.9 441.4 L163.8 441.5 L165.8 441.7 L167.8 441.8 L169.8 441.9 L171.8 442.0 L173.8 442.1 L175.8 442.2 L177.8 442.3 L179.8 442.4 L181.8 442.5 L183.8 442.6 L185.8 442.7 L187.8 442.8 L189.8 442.9 L191.8 443.0 L193.8 443.1 L195.8 443.2 L197.8 443.3 L199.8 443.5 L201.8 443.6 L203.8 443.7 L205.8 443.8 L207.8 444.0 L209.8 444.2 L211.8 444.3 L213.8 444.5 L215.8 444.7 L217.7 444.9 L219.7 445.2 L221.7 445.4 L223.7 445.7 L225.7 446.1 L227.7 446.5 L229.7 447.0 L231.7 447.5 L233.7 448.1 L235.7 448.7 L237.7 449.3 L239.7 450.0 L241.7 450.7 L243.7 451.4 L245.7 452.2 L247.7 453.0 L249.7 453.9 L251.7 454.8 L253.7 455.7 L255.7 456.6 L257.7 457.6 L259.7 458.6 L261.7 459.7 L263.7 460.7 L265.7 461.8 L267.7 462.9 L269.7 463.9 L271.6 465.0 L273.6 466.0 L275.6 467.0 L277.6 468.0 L279.6 469.0 L281.6 469.9 L283.6 470.8 L285.6 471.8 L287.6 472.6 L289.6 473.5 L291.6 474.4 L293.6 475.2 L295.6 476.1 L297.6 476.9 L299.6 477.7 L301.6 478.5 L303.6 479.3 L305.6 480.1 L307.6 480.8 L309.6 481.6 L311.6 482.3 L313.6 483.0 L315.6 483.6 L317.6 484.3 L319.6 484.9 L321.6 485.5 L323.6 486.1 L325.5 486.8 L327.5 487.4 L329.5 488.1 L331.5 488.9 L333.5 489.7 L335.5 490.5 L337.5 491.5 L339.5 492.5 L341.5 493.6 L343.5 494.7 L345.5 495.9 L347.5 497.1 L349.5 498.4 L351.5 499.7 L353.5 501.1 L355.5 502.5 L357.5 503.9 L359.5 505.4 L361.5 506.8 L363.5 508.4 L365.5 509.9 L367.5 511.4 L369.5 513.0 L371.5 514.5 L373.5 516.1 L375.5 517.6 L377.5 519.2 L379.4 520.7 L381.4 522.3 L383.4 523.8 L385.4 525.2 L387.4 526.7 L389.4 528.1 L391.4 529.5 L393.4 530.8 L395.4 532.1 L397.4 533.3 L399.4 534.5 L401.4 535.6 L403.4 536.7 L405.4 537.7 L407.4 538.6 L409.4 539.5 L411.4 540.3 L413.4 541.1 L415.4 541.9 L417.4 542.6 L419.4 543.2 L421.4 543.9 L423.4 544.5 L425.4 545.1 L427.4 545.7 L429.4 546.2 L431.4 546.8 L433.3 547.3 L435.3 547.9 L437.3 548.4 L439.3 549.0 L441.3 549.6 L443.3 550.2 L445.3 550.9 L447.3 551.7 L449.3 552.6 L451.3 553.6 L453.3 554.7 L455.3 555.9 L457.3 557.3 L459.3 558.9" fill="none" stroke="#f00" stroke-width="1.6"/>
<line x1="122.75" y1="75.5" x2="122.75" y2="94.7" stroke="#00f" stroke-width="1"/>
<rect x="118.8" y="79.1" width="8" height="8" fill="#00f"/>
<line x1="225.3" y1="88.7" x2="225.3" y2="109.3" stroke="#00f" stroke-width="1"/>
<rect x="221.3" y="92.7" width="8" height="8" fill="#00f"/>
<line x1="367.2" y1="82.7" x2="367.2" y2="111.4" stroke="#00f" stroke-width="1"/>
<rect x="363.2" y="88.4" width="8" height="8" fill="#00f"/>
<line x1="96.6" y1="147.3" x2="157.1" y2="147.3" stroke="#000" stroke-width="1.45" stroke-dasharray="3 3.2"/>
<line x1="96.6" y1="166.8" x2="157.1" y2="166.8" stroke="#f00" stroke-width="1.6"/>
<line x1="96.6" y1="181.5" x2="157.1" y2="181.5" stroke="#0f0" stroke-width="1.45" stroke-dasharray="6 2.6 1.4 2.6"/>
<line x1="96.6" y1="198.8" x2="157.1" y2="198.8" stroke="#00f" stroke-width="1.45" stroke-dasharray="6 2.9"/>
<g stroke="#000" stroke-width="1.6" fill="none" stroke-linecap="butt">
<rect x="82.0" y="35.7" width="377.3" height="539.3"/>
<line x1="82.0" y1="215.3" x2="459.3" y2="215.3"/>
<line x1="82.0" y1="395.2" x2="459.3" y2="395.2"/>
</g>
<g stroke="#000" stroke-width="1.3" fill="none">
<line x1="97.09" y1="35.7" x2="97.09" y2="39.7"/>
<line x1="97.09" y1="211.3" x2="97.09" y2="219.3"/>
<line x1="97.09" y1="391.2" x2="97.09" y2="399.2"/>
<line x1="97.09" y1="571.0" x2="97.09" y2="575.0"/>
<line x1="112.18" y1="35.7" x2="112.18" y2="39.7"/>
<line x1="112.18" y1="211.3" x2="112.18" y2="219.3"/>
<line x1="112.18" y1="391.2" x2="112.18" y2="399.2"/>
<line x1="112.18" y1="571.0" x2="112.18" y2="575.0"/>
<line x1="127.28" y1="35.7" x2="127.28" y2="39.7"/>
<line x1="127.28" y1="211.3" x2="127.28" y2="219.3"/>
<line x1="127.28" y1="391.2" x2="127.28" y2="399.2"/>
<line x1="127.28" y1="571.0" x2="127.28" y2="575.0"/>
<line x1="142.37" y1="35.7" x2="142.37" y2="39.7"/>
<line x1="142.37" y1="211.3" x2="142.37" y2="219.3"/>
<line x1="142.37" y1="391.2" x2="142.37" y2="399.2"/>
<line x1="142.37" y1="571.0" x2="142.37" y2="575.0"/>
<line x1="157.46" y1="35.7" x2="157.46" y2="43.7"/>
<line x1="157.46" y1="207.3" x2="157.46" y2="223.3"/>
<line x1="157.46" y1="387.2" x2="157.46" y2="403.2"/>
<line x1="157.46" y1="567.0" x2="157.46" y2="575.0"/>
<line x1="172.55" y1="35.7" x2="172.55" y2="39.7"/>
<line x1="172.55" y1="211.3" x2="172.55" y2="219.3"/>
<line x1="172.55" y1="391.2" x2="172.55" y2="399.2"/>
<line x1="172.55" y1="571.0" x2="172.55" y2="575.0"/>
<line x1="187.64" y1="35.7" x2="187.64" y2="39.7"/>
<line x1="187.64" y1="211.3" x2="187.64" y2="219.3"/>
<line x1="187.64" y1="391.2" x2="187.64" y2="399.2"/>
<line x1="187.64" y1="571.0" x2="187.64" y2="575.0"/>
<line x1="202.74" y1="35.7" x2="202.74" y2="39.7"/>
<line x1="202.74" y1="211.3" x2="202.74" y2="219.3"/>
<line x1="202.74" y1="391.2" x2="202.74" y2="399.2"/>
<line x1="202.74" y1="571.0" x2="202.74" y2="575.0"/>
<line x1="217.83" y1="35.7" x2="217.83" y2="39.7"/>
<line x1="217.83" y1="211.3" x2="217.83" y2="219.3"/>
<line x1="217.83" y1="391.2" x2="217.83" y2="399.2"/>
<line x1="217.83" y1="571.0" x2="217.83" y2="575.0"/>
<line x1="232.92" y1="35.7" x2="232.92" y2="43.7"/>
<line x1="232.92" y1="207.3" x2="232.92" y2="223.3"/>
<line x1="232.92" y1="387.2" x2="232.92" y2="403.2"/>
<line x1="232.92" y1="567.0" x2="232.92" y2="575.0"/>
<line x1="248.01" y1="35.7" x2="248.01" y2="39.7"/>
<line x1="248.01" y1="211.3" x2="248.01" y2="219.3"/>
<line x1="248.01" y1="391.2" x2="248.01" y2="399.2"/>
<line x1="248.01" y1="571.0" x2="248.01" y2="575.0"/>
<line x1="263.10" y1="35.7" x2="263.10" y2="39.7"/>
<line x1="263.10" y1="211.3" x2="263.10" y2="219.3"/>
<line x1="263.10" y1="391.2" x2="263.10" y2="399.2"/>
<line x1="263.10" y1="571.0" x2="263.10" y2="575.0"/>
<line x1="278.20" y1="35.7" x2="278.20" y2="39.7"/>
<line x1="278.20" y1="211.3" x2="278.20" y2="219.3"/>
<line x1="278.20" y1="391.2" x2="278.20" y2="399.2"/>
<line x1="278.20" y1="571.0" x2="278.20" y2="575.0"/>
<line x1="293.29" y1="35.7" x2="293.29" y2="39.7"/>
<line x1="293.29" y1="211.3" x2="293.29" y2="219.3"/>
<line x1="293.29" y1="391.2" x2="293.29" y2="399.2"/>
<line x1="293.29" y1="571.0" x2="293.29" y2="575.0"/>
<line x1="308.38" y1="35.7" x2="308.38" y2="43.7"/>
<line x1="308.38" y1="207.3" x2="308.38" y2="223.3"/>
<line x1="308.38" y1="387.2" x2="308.38" y2="403.2"/>
<line x1="308.38" y1="567.0" x2="308.38" y2="575.0"/>
<line x1="323.47" y1="35.7" x2="323.47" y2="39.7"/>
<line x1="323.47" y1="211.3" x2="323.47" y2="219.3"/>
<line x1="323.47" y1="391.2" x2="323.47" y2="399.2"/>
<line x1="323.47" y1="571.0" x2="323.47" y2="575.0"/>
<line x1="338.56" y1="35.7" x2="338.56" y2="39.7"/>
<line x1="338.56" y1="211.3" x2="338.56" y2="219.3"/>
<line x1="338.56" y1="391.2" x2="338.56" y2="399.2"/>
<line x1="338.56" y1="571.0" x2="338.56" y2="575.0"/>
<line x1="353.66" y1="35.7" x2="353.66" y2="39.7"/>
<line x1="353.66" y1="211.3" x2="353.66" y2="219.3"/>
<line x1="353.66" y1="391.2" x2="353.66" y2="399.2"/>
<line x1="353.66" y1="571.0" x2="353.66" y2="575.0"/>
<line x1="368.75" y1="35.7" x2="368.75" y2="39.7"/>
<line x1="368.75" y1="211.3" x2="368.75" y2="219.3"/>
<line x1="368.75" y1="391.2" x2="368.75" y2="399.2"/>
<line x1="368.75" y1="571.0" x2="368.75" y2="575.0"/>
<line x1="383.84" y1="35.7" x2="383.84" y2="43.7"/>
<line x1="383.84" y1="207.3" x2="383.84" y2="223.3"/>
<line x1="383.84" y1="387.2" x2="383.84" y2="403.2"/>
<line x1="383.84" y1="567.0" x2="383.84" y2="575.0"/>
<line x1="398.93" y1="35.7" x2="398.93" y2="39.7"/>
<line x1="398.93" y1="211.3" x2="398.93" y2="219.3"/>
<line x1="398.93" y1="391.2" x2="398.93" y2="399.2"/>
<line x1="398.93" y1="571.0" x2="398.93" y2="575.0"/>
<line x1="414.02" y1="35.7" x2="414.02" y2="39.7"/>
<line x1="414.02" y1="211.3" x2="414.02" y2="219.3"/>
<line x1="414.02" y1="391.2" x2="414.02" y2="399.2"/>
<line x1="414.02" y1="571.0" x2="414.02" y2="575.0"/>
<line x1="429.12" y1="35.7" x2="429.12" y2="39.7"/>
<line x1="429.12" y1="211.3" x2="429.12" y2="219.3"/>
<line x1="429.12" y1="391.2" x2="429.12" y2="399.2"/>
<line x1="429.12" y1="571.0" x2="429.12" y2="575.0"/>
<line x1="444.21" y1="35.7" x2="444.21" y2="39.7"/>
<line x1="444.21" y1="211.3" x2="444.21" y2="219.3"/>
<line x1="444.21" y1="391.2" x2="444.21" y2="399.2"/>
<line x1="444.21" y1="571.0" x2="444.21" y2="575.0"/>
<line x1="82.0" y1="215.30" x2="90.0" y2="215.30"/>
<line x1="451.3" y1="215.30" x2="459.3" y2="215.30"/>
<line x1="82.0" y1="200.68" x2="86.0" y2="200.68"/>
<line x1="455.3" y1="200.68" x2="459.3" y2="200.68"/>
<line x1="82.0" y1="192.13" x2="86.0" y2="192.13"/>
<line x1="455.3" y1="192.13" x2="459.3" y2="192.13"/>
<line x1="82.0" y1="186.07" x2="86.0" y2="186.07"/>
<line x1="455.3" y1="186.07" x2="459.3" y2="186.07"/>
<line x1="82.0" y1="181.36" x2="86.0" y2="181.36"/>
<line x1="455.3" y1="181.36" x2="459.3" y2="181.36"/>
<line x1="82.0" y1="177.52" x2="86.0" y2="177.52"/>
<line x1="455.3" y1="177.52" x2="459.3" y2="177.52"/>
<line x1="82.0" y1="174.27" x2="86.0" y2="174.27"/>
<line x1="455.3" y1="174.27" x2="459.3" y2="174.27"/>
<line x1="82.0" y1="171.45" x2="86.0" y2="171.45"/>
<line x1="455.3" y1="171.45" x2="459.3" y2="171.45"/>
<line x1="82.0" y1="168.97" x2="86.0" y2="168.97"/>
<line x1="455.3" y1="168.97" x2="459.3" y2="168.97"/>
<line x1="82.0" y1="166.75" x2="90.0" y2="166.75"/>
<line x1="451.3" y1="166.75" x2="459.3" y2="166.75"/>
<line x1="82.0" y1="152.13" x2="86.0" y2="152.13"/>
<line x1="455.3" y1="152.13" x2="459.3" y2="152.13"/>
<line x1="82.0" y1="143.58" x2="86.0" y2="143.58"/>
<line x1="455.3" y1="143.58" x2="459.3" y2="143.58"/>
<line x1="82.0" y1="137.51" x2="86.0" y2="137.51"/>
<line x1="455.3" y1="137.51" x2="459.3" y2="137.51"/>
<line x1="82.0" y1="132.81" x2="86.0" y2="132.81"/>
<line x1="455.3" y1="132.81" x2="459.3" y2="132.81"/>
<line x1="82.0" y1="128.96" x2="86.0" y2="128.96"/>
<line x1="455.3" y1="128.96" x2="459.3" y2="128.96"/>
<line x1="82.0" y1="125.71" x2="86.0" y2="125.71"/>
<line x1="455.3" y1="125.71" x2="459.3" y2="125.71"/>
<line x1="82.0" y1="122.90" x2="86.0" y2="122.90"/>
<line x1="455.3" y1="122.90" x2="459.3" y2="122.90"/>
<line x1="82.0" y1="120.41" x2="86.0" y2="120.41"/>
<line x1="455.3" y1="120.41" x2="459.3" y2="120.41"/>
<line x1="82.0" y1="118.19" x2="90.0" y2="118.19"/>
<line x1="451.3" y1="118.19" x2="459.3" y2="118.19"/>
<line x1="82.0" y1="103.58" x2="86.0" y2="103.58"/>
<line x1="455.3" y1="103.58" x2="459.3" y2="103.58"/>
<line x1="82.0" y1="95.03" x2="86.0" y2="95.03"/>
<line x1="455.3" y1="95.03" x2="459.3" y2="95.03"/>
<line x1="82.0" y1="88.96" x2="86.0" y2="88.96"/>
<line x1="455.3" y1="88.96" x2="459.3" y2="88.96"/>
<line x1="82.0" y1="84.25" x2="86.0" y2="84.25"/>
<line x1="455.3" y1="84.25" x2="459.3" y2="84.25"/>
<line x1="82.0" y1="80.41" x2="86.0" y2="80.41"/>
<line x1="455.3" y1="80.41" x2="459.3" y2="80.41"/>
<line x1="82.0" y1="77.16" x2="86.0" y2="77.16"/>
<line x1="455.3" y1="77.16" x2="459.3" y2="77.16"/>
<line x1="82.0" y1="74.34" x2="86.0" y2="74.34"/>
<line x1="455.3" y1="74.34" x2="459.3" y2="74.34"/>
<line x1="82.0" y1="71.86" x2="86.0" y2="71.86"/>
<line x1="455.3" y1="71.86" x2="459.3" y2="71.86"/>
<line x1="82.0" y1="69.64" x2="90.0" y2="69.64"/>
<line x1="451.3" y1="69.64" x2="459.3" y2="69.64"/>
<line x1="82.0" y1="55.02" x2="86.0" y2="55.02"/>
<line x1="455.3" y1="55.02" x2="459.3" y2="55.02"/>
<line x1="82.0" y1="46.47" x2="86.0" y2="46.47"/>
<line x1="455.3" y1="46.47" x2="459.3" y2="46.47"/>
<line x1="82.0" y1="40.41" x2="86.0" y2="40.41"/>
<line x1="455.3" y1="40.41" x2="459.3" y2="40.41"/>
<line x1="82.0" y1="395.20" x2="90.0" y2="395.20"/>
<line x1="451.3" y1="395.20" x2="459.3" y2="395.20"/>
<line x1="82.0" y1="377.15" x2="86.0" y2="377.15"/>
<line x1="455.3" y1="377.15" x2="459.3" y2="377.15"/>
<line x1="82.0" y1="366.59" x2="86.0" y2="366.59"/>
<line x1="455.3" y1="366.59" x2="459.3" y2="366.59"/>
<line x1="82.0" y1="359.10" x2="86.0" y2="359.10"/>
<line x1="455.3" y1="359.10" x2="459.3" y2="359.10"/>
<line x1="82.0" y1="353.29" x2="86.0" y2="353.29"/>
<line x1="455.3" y1="353.29" x2="459.3" y2="353.29"/>
<line x1="82.0" y1="348.54" x2="86.0" y2="348.54"/>
<line x1="455.3" y1="348.54" x2="459.3" y2="348.54"/>
<line x1="82.0" y1="344.52" x2="86.0" y2="344.52"/>
<line x1="455.3" y1="344.52" x2="459.3" y2="344.52"/>
<line x1="82.0" y1="341.04" x2="86.0" y2="341.04"/>
<line x1="455.3" y1="341.04" x2="459.3" y2="341.04"/>
<line x1="82.0" y1="337.98" x2="86.0" y2="337.98"/>
<line x1="455.3" y1="337.98" x2="459.3" y2="337.98"/>
<line x1="82.0" y1="335.23" x2="90.0" y2="335.23"/>
<line x1="451.3" y1="335.23" x2="459.3" y2="335.23"/>
<line x1="82.0" y1="317.18" x2="86.0" y2="317.18"/>
<line x1="455.3" y1="317.18" x2="459.3" y2="317.18"/>
<line x1="82.0" y1="306.62" x2="86.0" y2="306.62"/>
<line x1="455.3" y1="306.62" x2="459.3" y2="306.62"/>
<line x1="82.0" y1="299.13" x2="86.0" y2="299.13"/>
<line x1="455.3" y1="299.13" x2="459.3" y2="299.13"/>
<line x1="82.0" y1="293.32" x2="86.0" y2="293.32"/>
<line x1="455.3" y1="293.32" x2="459.3" y2="293.32"/>
<line x1="82.0" y1="288.57" x2="86.0" y2="288.57"/>
<line x1="455.3" y1="288.57" x2="459.3" y2="288.57"/>
<line x1="82.0" y1="284.56" x2="86.0" y2="284.56"/>
<line x1="455.3" y1="284.56" x2="459.3" y2="284.56"/>
<line x1="82.0" y1="281.08" x2="86.0" y2="281.08"/>
<line x1="455.3" y1="281.08" x2="459.3" y2="281.08"/>
<line x1="82.0" y1="278.01" x2="86.0" y2="278.01"/>
<line x1="455.3" y1="278.01" x2="459.3" y2="278.01"/>
<line x1="82.0" y1="275.27" x2="90.0" y2="275.27"/>
<line x1="451.3" y1="275.27" x2="459.3" y2="275.27"/>
<line x1="82.0" y1="257.21" x2="86.0" y2="257.21"/>
<line x1="455.3" y1="257.21" x2="459.3" y2="257.21"/>
<line x1="82.0" y1="246.66" x2="86.0" y2="246.66"/>
<line x1="455.3" y1="246.66" x2="459.3" y2="246.66"/>
<line x1="82.0" y1="239.16" x2="86.0" y2="239.16"/>
<line x1="455.3" y1="239.16" x2="459.3" y2="239.16"/>
<line x1="82.0" y1="233.35" x2="86.0" y2="233.35"/>
<line x1="455.3" y1="233.35" x2="459.3" y2="233.35"/>
<line x1="82.0" y1="228.60" x2="86.0" y2="228.60"/>
<line x1="455.3" y1="228.60" x2="459.3" y2="228.60"/>
<line x1="82.0" y1="224.59" x2="86.0" y2="224.59"/>
<line x1="455.3" y1="224.59" x2="459.3" y2="224.59"/>
<line x1="82.0" y1="221.11" x2="86.0" y2="221.11"/>
<line x1="455.3" y1="221.11" x2="459.3" y2="221.11"/>
<line x1="82.0" y1="218.04" x2="86.0" y2="218.04"/>
<line x1="455.3" y1="218.04" x2="459.3" y2="218.04"/>
<line x1="82.0" y1="215.30" x2="90.0" y2="215.30"/>
<line x1="451.3" y1="215.30" x2="459.3" y2="215.30"/>
<line x1="82.0" y1="575.00" x2="90.0" y2="575.00"/>
<line x1="451.3" y1="575.00" x2="459.3" y2="575.00"/>
<line x1="82.0" y1="556.96" x2="86.0" y2="556.96"/>
<line x1="455.3" y1="556.96" x2="459.3" y2="556.96"/>
<line x1="82.0" y1="546.40" x2="86.0" y2="546.40"/>
<line x1="455.3" y1="546.40" x2="459.3" y2="546.40"/>
<line x1="82.0" y1="538.92" x2="86.0" y2="538.92"/>
<line x1="455.3" y1="538.92" x2="459.3" y2="538.92"/>
<line x1="82.0" y1="533.11" x2="86.0" y2="533.11"/>
<line x1="455.3" y1="533.11" x2="459.3" y2="533.11"/>
<line x1="82.0" y1="528.36" x2="86.0" y2="528.36"/>
<line x1="455.3" y1="528.36" x2="459.3" y2="528.36"/>
<line x1="82.0" y1="524.35" x2="86.0" y2="524.35"/>
<line x1="455.3" y1="524.35" x2="459.3" y2="524.35"/>
<line x1="82.0" y1="520.87" x2="86.0" y2="520.87"/>
<line x1="455.3" y1="520.87" x2="459.3" y2="520.87"/>
<line x1="82.0" y1="517.81" x2="86.0" y2="517.81"/>
<line x1="455.3" y1="517.81" x2="459.3" y2="517.81"/>
<line x1="82.0" y1="515.07" x2="90.0" y2="515.07"/>
<line x1="451.3" y1="515.07" x2="459.3" y2="515.07"/>
<line x1="82.0" y1="497.02" x2="86.0" y2="497.02"/>
<line x1="455.3" y1="497.02" x2="459.3" y2="497.02"/>
<line x1="82.0" y1="486.47" x2="86.0" y2="486.47"/>
<line x1="455.3" y1="486.47" x2="459.3" y2="486.47"/>
<line x1="82.0" y1="478.98" x2="86.0" y2="478.98"/>
<line x1="455.3" y1="478.98" x2="459.3" y2="478.98"/>
<line x1="82.0" y1="473.18" x2="86.0" y2="473.18"/>
<line x1="455.3" y1="473.18" x2="459.3" y2="473.18"/>
<line x1="82.0" y1="468.43" x2="86.0" y2="468.43"/>
<line x1="455.3" y1="468.43" x2="459.3" y2="468.43"/>
<line x1="82.0" y1="464.42" x2="86.0" y2="464.42"/>
<line x1="455.3" y1="464.42" x2="459.3" y2="464.42"/>
<line x1="82.0" y1="460.94" x2="86.0" y2="460.94"/>
<line x1="455.3" y1="460.94" x2="459.3" y2="460.94"/>
<line x1="82.0" y1="457.88" x2="86.0" y2="457.88"/>
<line x1="455.3" y1="457.88" x2="459.3" y2="457.88"/>
<line x1="82.0" y1="455.13" x2="90.0" y2="455.13"/>
<line x1="451.3" y1="455.13" x2="459.3" y2="455.13"/>
<line x1="82.0" y1="437.09" x2="86.0" y2="437.09"/>
<line x1="455.3" y1="437.09" x2="459.3" y2="437.09"/>
<line x1="82.0" y1="426.54" x2="86.0" y2="426.54"/>
<line x1="455.3" y1="426.54" x2="459.3" y2="426.54"/>
<line x1="82.0" y1="419.05" x2="86.0" y2="419.05"/>
<line x1="455.3" y1="419.05" x2="459.3" y2="419.05"/>
<line x1="82.0" y1="413.24" x2="86.0" y2="413.24"/>
<line x1="455.3" y1="413.24" x2="459.3" y2="413.24"/>
<line x1="82.0" y1="408.50" x2="86.0" y2="408.50"/>
<line x1="455.3" y1="408.50" x2="459.3" y2="408.50"/>
<line x1="82.0" y1="404.48" x2="86.0" y2="404.48"/>
<line x1="455.3" y1="404.48" x2="459.3" y2="404.48"/>
<line x1="82.0" y1="401.01" x2="86.0" y2="401.01"/>
<line x1="455.3" y1="401.01" x2="459.3" y2="401.01"/>
<line x1="82.0" y1="397.94" x2="86.0" y2="397.94"/>
<line x1="455.3" y1="397.94" x2="459.3" y2="397.94"/>
<line x1="82.0" y1="395.20" x2="90.0" y2="395.20"/>
<line x1="451.3" y1="395.20" x2="459.3" y2="395.20"/>
</g>
<g font-size="17.4">
<text transform="translate(82.0,599.3) scale(1,1.04)" text-anchor="middle">0</text>
<text transform="translate(157.5,599.3) scale(1,1.04)" text-anchor="middle">5</text>
<text transform="translate(232.9,599.3) scale(1,1.04)" text-anchor="middle">10</text>
<text transform="translate(308.4,599.3) scale(1,1.04)" text-anchor="middle">15</text>
<text transform="translate(383.8,599.3) scale(1,1.04)" text-anchor="middle">20</text>
<text transform="translate(459.3,599.3) scale(1,1.04)" text-anchor="middle">25</text>
<text transform="translate(69.7,42.1) scale(1,1.05)" text-anchor="end">50</text>
<text transform="translate(70.0,76.0) scale(1,1.05)" text-anchor="end">10</text>
<text transform="translate(71.1,124.6) scale(1,1.05)" text-anchor="end" letter-spacing="-0.3">1.0</text>
<text transform="translate(70.5,173.1) scale(1,1.05)" text-anchor="end" letter-spacing="-0.3">0.1</text>
<text transform="translate(69.7,221.7) scale(1,1.05)" text-anchor="end" letter-spacing="-0.3">0.01</text>
<text transform="translate(71.1,281.7) scale(1,1.05)" text-anchor="end" letter-spacing="-0.3">1.0</text>
<text transform="translate(70.5,341.7) scale(1,1.05)" text-anchor="end" letter-spacing="-0.3">0.1</text>
<text transform="translate(69.7,401.6) scale(1,1.05)" text-anchor="end" letter-spacing="-0.3">0.01</text>
<text transform="translate(71.1,461.6) scale(1,1.05)" text-anchor="end" letter-spacing="-0.3">1.0</text>
<text transform="translate(70.5,521.6) scale(1,1.05)" text-anchor="end" letter-spacing="-0.3">0.1</text>
<text transform="translate(69.7,581.4) scale(1,1.05)" text-anchor="end" letter-spacing="-0.3">0.01</text>
</g>
<g font-size="18.8">
<text x="201" y="16.0" font-size="14">3</text>
<text x="208.3" y="25">H</text>
<text x="222.6" y="25">e(</text>
<text x="236.6" y="25" class="i">e</text>
<text x="247.5" y="25">,</text>
<text x="257" y="25" class="i">e</text>
<text x="266.3" y="25">’</text>
<text x="278.8" y="25" class="i">K</text>
<text x="295.1" y="17.3" font-size="15.4">+</text>
<text x="304.5" y="25">)</text>
<text x="316.5" y="16.4" font-size="14">3</text>
<text x="315.3" y="31.4" font-size="14.4">Λ</text>
<text x="326.0" y="25">H</text>
</g>
<g font-size="18.6">
<text transform="translate(308.8,67.9) scale(0.93,1)" class="i">W</text>
<rect x="330.3" y="59.8" width="10.4" height="1.55"/><rect x="330.3" y="64.1" width="10.4" height="1.55"/>
<text x="346.2" y="67.9">4</text>
<text x="357.5" y="67.9">.</text>
<text x="361.6" y="67.9" letter-spacing="0.4">10</text>
<text x="387.4" y="67.9">GeV</text>
</g>
<g font-size="18.6">
<text transform="translate(127.1,359.2) scale(0.93,1)" class="i">W</text>
<rect x="148.6" y="351.1" width="10.4" height="1.55"/><rect x="148.6" y="355.4" width="10.4" height="1.55"/>
<text x="164.5" y="359.2">4</text>
<text x="175.8" y="359.2">.</text>
<text x="179.9" y="359.2" letter-spacing="0.4">30</text>
<text x="205.7" y="359.2">GeV</text>
</g>
<g font-size="18.6">
<text transform="translate(127.1,539.2) scale(0.93,1)" class="i">W</text>
<rect x="148.6" y="531.1" width="10.4" height="1.55"/><rect x="148.6" y="535.4" width="10.4" height="1.55"/>
<text x="164.5" y="539.2">4</text>
<text x="175.8" y="539.2">.</text>
<text x="179.9" y="539.2" letter-spacing="0.4">50</text>
<text x="205.7" y="539.2">GeV</text>
</g>
<g font-size="17.4">
<text x="173.3" y="153.2" class="i">k</text>
<text x="179.8" y="145.6" font-size="15">0</text>
<text x="179.5" y="158.8" font-size="15">1</text>
<rect x="200.4" y="147.6" width="9.6" height="1.35"/><rect x="200.4" y="151.1" width="9.6" height="1.35"/>
<text transform="translate(218.8,153.3) scale(1.15,0.86)" class="i">m</text>
<text x="232.0" y="158.7" font-size="13.4" class="i">N</text>
<text x="172.9" y="172.3">final on-shell</text>
<text x="172.9" y="186.6">initial on-shell</text>
<text x="172.9" y="204.3">initial and final on-shell</text>
</g>
<g font-size="22">
<text transform="translate(222.6,624.2) scale(1.28,1)" stroke-width="0">θ</text>
<text x="235.6" y="633.0" font-size="14.5" class="i">K</text>
<text x="238.3" y="614.5" font-size="15">c.m.</text>
<text x="270.5" y="624.2">(deg)</text>
</g>
<g font-size="21.3" transform="translate(20.6,363.2) rotate(-90)">
<text x="0" y="0" class="i">d</text>
<text transform="translate(12.5,0) scale(1.13,1)" stroke-width="0.05">σ</text>
<line x1="27.3" y1="1.1" x2="32.0" y2="-6.4" stroke="#000" stroke-width="1.35"/>
<text x="33.6" y="0" class="i">d</text>
<text transform="translate(44.8,0) scale(1.07,1)">Ω</text>
<text x="80.2" y="0" font-size="22">(nb/sr)</text>
</g>
</svg></body></html>
